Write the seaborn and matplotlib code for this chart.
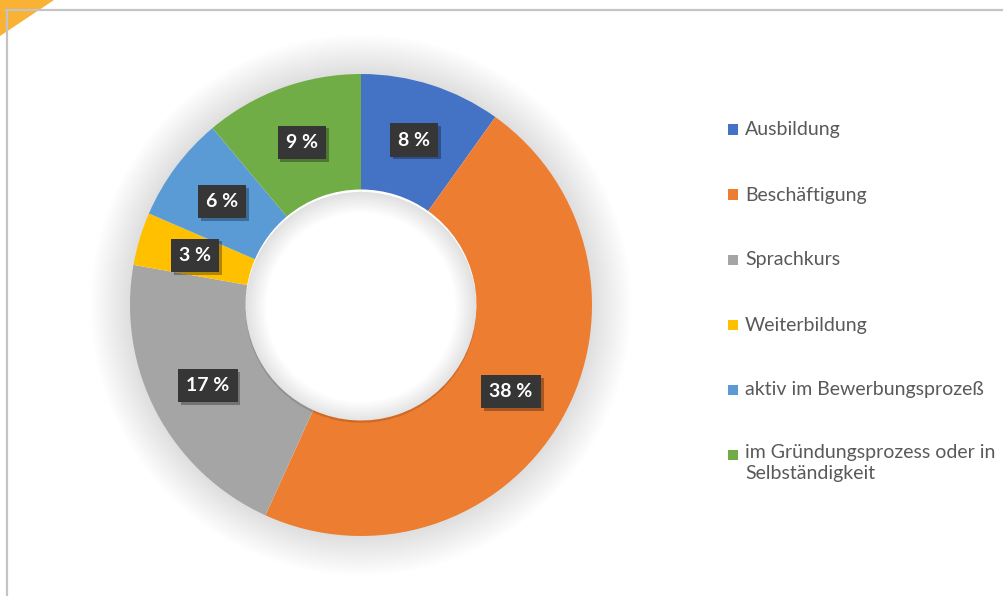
import numpy as np
import matplotlib
matplotlib.use("Agg")
from matplotlib import pyplot as plt
from matplotlib.patches import Wedge, Rectangle, Polygon
from matplotlib.lines import Line2D
import matplotlib.patheffects as pe
import seaborn as sns

sns.set_theme(style="white")
plt.rcParams["font.family"] = ["Lato", "DejaVu Sans"]

categories = ["Ausbildung", "Beschäftigung", "Sprachkurs", "Weiterbildung",
              "aktiv im Bewerbungsprozeß", "im Gründungsprozess oder in\nSelbständigkeit"]
percent = [8, 38, 17, 3, 6, 9]
colors = sns.color_palette(["#4472C4", "#ED7D31", "#A5A5A5", "#FFC000", "#5B9BD5", "#70AD47"])

W, H = 1004, 596
fig = plt.figure(figsize=(W / 100, H / 100), dpi=100)
fig.patch.set_facecolor("white")

# donut axes: centre at (361, 305) px, radius 231 px
cx, cy, R = 361, 305, 231
half = 250
ax = fig.add_axes([(cx - half) / W, (H - cy - half) / H, 2 * half / W, 2 * half / H])

# soft glow outside the ring
for i in range(16):
    r = 1 + 0.17 * (i + 1) / 16
    ax.add_patch(Wedge((0, 0), r, 0, 360, width=r - 0.99, facecolor="black",
                       alpha=0.008, lw=0, zorder=0, clip_on=False))

wedges, texts, autotexts = ax.pie(
    percent, colors=colors, startangle=90, counterclock=False,
    wedgeprops=dict(width=0.5, linewidth=0), pctdistance=0.75,
    autopct="%1.0f", radius=1)

for t, v in zip(autotexts, percent):
    t.set_text(f"{v} %")
    t.set_color("white")
    t.set_fontweight("bold")
    t.set_fontsize(14)
    t.set_bbox(dict(boxstyle="square,pad=0.42", facecolor="#363636", edgecolor="none"))
    t.get_bbox_patch().set_path_effects([
        pe.SimplePatchShadow(offset=(2, -2), shadow_rgbFace="black", alpha=0.3), pe.Normal()])

# inner shadow in the hole
for i in range(10):
    w = 0.09 * (i + 1) / 10
    ax.add_patch(Wedge((0, -0.01), 0.5, 0, 360, width=w, facecolor="black",
                       alpha=0.012, lw=0, zorder=5))

lim = half / R
ax.set_xlim(-lim, lim)
ax.set_ylim(-lim, lim)
ax.set_aspect("equal")
ax.axis("off")

# legend (drawn by hand to mimic the Office layout)
y0, step = 130, 65
for i, (lab, col) in enumerate(zip(categories, colors)):
    y = y0 + step * i
    fig.add_artist(Rectangle((728 / W, 1 - (y + 5) / H), 10.5 / W, 10.5 / H,
                             transform=fig.transFigure, facecolor=col, lw=0))
    if "\n" in lab:
        fig.text(745 / W, 1 - (y - 11) / H, lab, fontsize=14, color="#595959",
                 va="top", ha="left", linespacing=1.3)
    else:
        fig.text(745 / W, 1 - y / H, lab, fontsize=14, color="#595959",
                 va="center", ha="left")

# frame lines and corner tag
fig.add_artist(Line2D([6 / W, 1], [1 - 9.5 / H, 1 - 9.5 / H], transform=fig.transFigure,
                      color="#c4c4c4", lw=1.6))
fig.add_artist(Line2D([6.5 / W, 6.5 / W], [0, 1 - 9.5 / H], transform=fig.transFigure,
                      color="#c4c4c4", lw=1.6))
fig.add_artist(Polygon([[0, 1], [54 / W, 1], [0, 1 - 36 / H]], closed=True,
                       transform=fig.transFigure, facecolor="#F9B233", lw=0))

fig.savefig("out.png", dpi=100)
